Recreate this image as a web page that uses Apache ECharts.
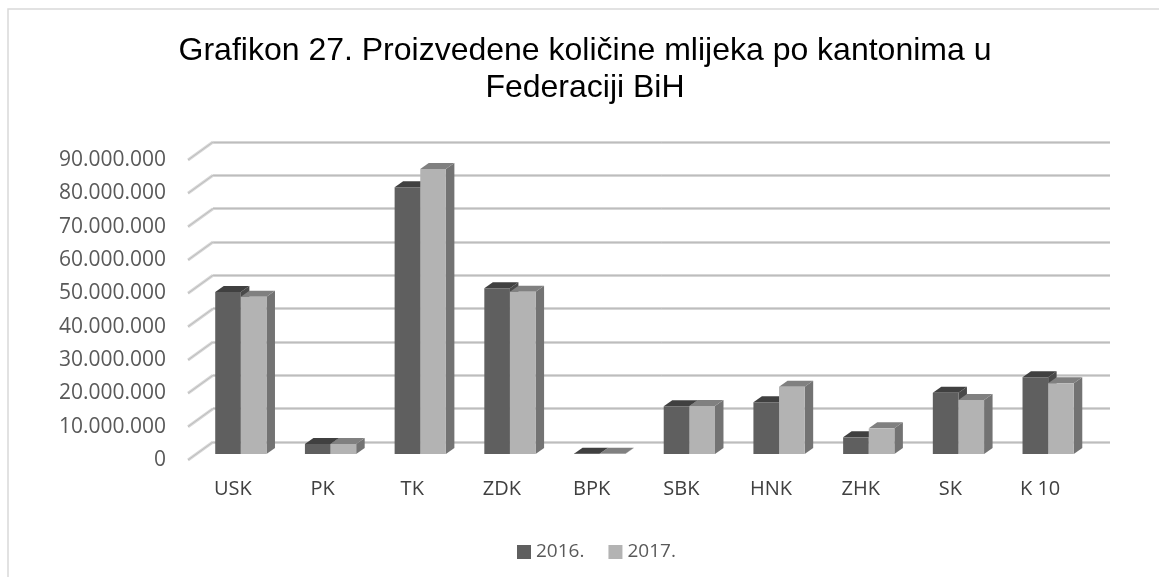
<!DOCTYPE html>
<html>
<head>
<meta charset="utf-8">
<script src="https://cdn.jsdelivr.net/npm/echarts@6/dist/echarts.min.js"></script>
<style>
  html, body { margin: 0; padding: 0; background: #fff; }
  #chart { width: 1159px; height: 577px; }
</style>
</head>
<body>
<div id="chart"></div>
<script>
// podaci
var kantoni = ['USK', 'PK', 'TK', 'ZDK', 'BPK', 'SBK', 'HNK', 'ZHK', 'SK', 'K 10'];
var god2016 = [48600000, 3000000, 80000000, 49700000, 100000, 14300000, 15500000, 5000000, 18400000, 23000000];
var god2017 = [47200000, 3000000, 85500000, 48700000, 100000, 14400000, 20200000, 7700000, 16200000, 21200000];
var yTicks = [0, 10000000, 20000000, 30000000, 40000000, 50000000, 60000000, 70000000, 80000000, 90000000];

// dubina 3d prikaza (px)
var DX = 25, DY = 18;       // prednja ravnina -> zadnji zid
var BDX = 8.5, BDY = 6;     // dubina stupca
var BAR_FRAC = 0.2857;

function fmt(n) {
  return String(n).replace(/\B(?=(\d{3})+(?!\d))/g, '.');
}

function pairs(arr) {
  return arr.map(function (v, i) { return [i, v]; });
}

function barRenderer(idx, cFront, cTop, cSide) {
  return function (params, api) {
    var v = api.value(1);
    var base = api.coord([api.value(0), 0]);
    var top = api.coord([api.value(0), v]);
    var w = api.size([1, 0])[0] * BAR_FRAC;
    var x0 = base[0] + (idx - 1) * w;
    var yb = base[1], yt = top[1];
    return {
      type: 'group',
      children: [
        { type: 'polygon', shape: { points: [[x0 + w, yt], [x0 + w, yb], [x0 + w + BDX, yb - BDY], [x0 + w + BDX, yt - BDY]] },
          style: { fill: cSide } },
        { type: 'polygon', shape: { points: [[x0, yt], [x0 + w, yt], [x0 + w + BDX, yt - BDY], [x0 + BDX, yt - BDY]] },
          style: { fill: cTop } },
        { type: 'rect', shape: { x: x0, y: yt, width: w, height: yb - yt },
          style: { fill: cFront } }
      ]
    };
  };
}

var chart = echarts.init(document.getElementById('chart'));

var option = {
  backgroundColor: '#fff',
  animation: false,
  title: {
    text: 'Grafikon 27. Proizvedene količine mlijeka po kantonima u\nFederaciji BiH',
    left: 580,
    top: 28,
    textAlign: 'center',
    textStyle: { fontFamily: 'Liberation Sans', fontSize: 32, fontWeight: 'normal', color: '#000', lineHeight: 37 }
  },
  graphic: [{
    type: 'rect', shape: { x: 8, y: 9, width: 1200, height: 620 },
    style: { fill: 'none', stroke: '#d9d9d9', lineWidth: 1.5 }, z: -10
  }],
  legend: {
    data: ['2016.', '2017.'],
    left: 512,
    top: 537,
    itemWidth: 14,
    itemHeight: 14,
    itemGap: 24,
    icon: 'rect',
    textStyle: { fontFamily: 'Open Sans', fontSize: 19, color: '#595959', lineHeight: 20 }
  },
  grid: [
    { left: 188, right: 74, top: 160, bottom: 117 },   // prednja ravnina
    { left: 196, right: 66, top: 154, bottom: 123 },   // stupci
    { left: 213, right: 49, top: 142, bottom: 135 }    // zadnji zid
  ],
  xAxis: [
    { type: 'category', gridIndex: 0, data: kantoni,
      axisLine: { show: false }, axisTick: { show: false },
      axisLabel: { margin: 19, fontFamily: 'Open Sans', fontSize: 20, color: '#404040' } },
    { type: 'category', gridIndex: 1, data: kantoni, show: false },
    { type: 'category', gridIndex: 2, data: kantoni, show: false }
  ],
  yAxis: [
    { type: 'value', gridIndex: 0, min: 0, max: 90000000, interval: 10000000,
      axisLine: { show: false }, axisTick: { show: false }, splitLine: { show: false },
      axisLabel: { margin: 22, fontFamily: 'Open Sans', fontSize: 21, color: '#595959', formatter: fmt } },
    { type: 'value', gridIndex: 1, min: 0, max: 90000000, interval: 10000000, show: false },
    { type: 'value', gridIndex: 2, min: 0, max: 90000000, interval: 10000000,
      axisLine: { show: false }, axisTick: { show: false }, axisLabel: { show: false },
      splitLine: { show: true, lineStyle: { color: '#d6d6d6', width: 3 } } },
    { type: 'value', gridIndex: 2, min: 0, max: 90000000, interval: 10000000,
      axisLine: { show: false }, axisTick: { show: false }, axisLabel: { show: false },
      splitLine: { show: true, lineStyle: { color: '#bdbdbd', width: 1 } } }
  ],
  series: [
    {
      // kose linije od osi do zadnjeg zida
      type: 'custom',
      xAxisIndex: 0, yAxisIndex: 0,
      silent: true,
      data: yTicks.map(function (v) { return [0, v]; }),
      renderItem: function (params, api) {
        var p = api.coord([0, api.value(1)]);
        var x = p[0] - api.size([1, 0])[0] / 2;
        return {
          type: 'group',
          children: [
            { type: 'line', shape: { x1: x, y1: p[1], x2: x + DX, y2: p[1] - DY }, style: { stroke: '#d6d6d6', lineWidth: 3 } },
            { type: 'line', shape: { x1: x, y1: p[1], x2: x + DX, y2: p[1] - DY }, style: { stroke: '#bdbdbd', lineWidth: 1 } }
          ]
        };
      }
    },
    {
      name: '2016.',
      type: 'custom',
      xAxisIndex: 1, yAxisIndex: 1,
      itemStyle: { color: '#5f5f5f' },
      data: pairs(god2016),
      encode: { x: 0, y: 1 },
      renderItem: barRenderer(0, '#5f5f5f', '#404040', '#4a4a4a')
    },
    {
      name: '2017.',
      type: 'custom',
      xAxisIndex: 1, yAxisIndex: 1,
      itemStyle: { color: '#b3b3b3' },
      data: pairs(god2017),
      encode: { x: 0, y: 1 },
      renderItem: barRenderer(1, '#b3b3b3', '#808080', '#737373')
    }
  ]
};

chart.setOption(option);
</script>
</body>
</html>
